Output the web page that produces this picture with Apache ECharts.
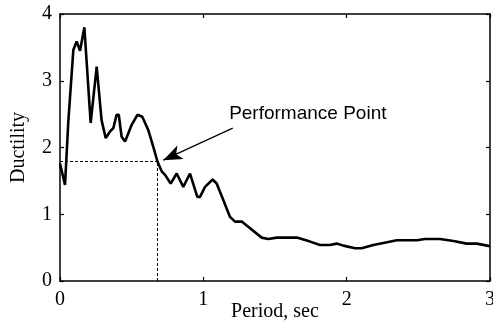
<!DOCTYPE html>
<html>
<head>
<meta charset="utf-8">
<script src="https://cdn.jsdelivr.net/npm/echarts@6/dist/echarts.min.js"></script>
<style>html,body{margin:0;padding:0;background:#fff}#c{width:493px;height:323px}</style>
</head>
<body>
<div id="c"></div>
<script>
const periods = [0, 0.01, 0.035, 0.058, 0.093, 0.116, 0.14, 0.17, 0.214, 0.256, 0.29, 0.319, 0.349, 0.372, 0.395, 0.41, 0.43, 0.454, 0.5, 0.54, 0.574, 0.616, 0.655, 0.68, 0.71, 0.733, 0.772, 0.814, 0.86, 0.907, 0.958, 0.977, 1.012, 1.065, 1.093, 1.14, 1.186, 1.221, 1.268, 1.326, 1.407, 1.454, 1.512, 1.652, 1.745, 1.814, 1.884, 1.93, 1.977, 2.058, 2.105, 2.186, 2.256, 2.35, 2.49, 2.547, 2.652, 2.745, 2.838, 2.908, 2.98, 3.0];
const ductility = [1.76, 1.74, 1.44, 2.39, 3.46, 3.59, 3.45, 3.80, 2.37, 3.21, 2.41, 2.14, 2.24, 2.29, 2.49, 2.49, 2.16, 2.09, 2.34, 2.49, 2.46, 2.26, 1.98, 1.79, 1.64, 1.59, 1.46, 1.61, 1.41, 1.61, 1.26, 1.26, 1.41, 1.52, 1.46, 1.21, 0.96, 0.89, 0.89, 0.79, 0.65, 0.63, 0.65, 0.65, 0.59, 0.54, 0.54, 0.56, 0.53, 0.49, 0.49, 0.54, 0.57, 0.61, 0.61, 0.63, 0.63, 0.60, 0.56, 0.56, 0.53, 0.52];
const xTicks = [0, 1, 2, 3];
const yTicks = [0, 1, 2, 3, 4];
const perfPoint = [0.675, 1.79];
const arrowStart = [1.205, 2.29];
const arrowEnd = [0.72, 1.81];
const annotationText = 'Performance Point';
const annotationPos = [1.18, 2.5];
const xName = 'Period, sec';
const yName = 'Ductility';

const chart = echarts.init(document.getElementById('c'), null, {renderer: 'canvas'});
const serif = '"Liberation Serif", "Times New Roman", serif';
const sans = '"Liberation Sans", Arial, sans-serif';
const lineBlack = {show: true, onZero: false, lineStyle: {color: '#000', width: 1.5}};
const tickStyle = {inside: true, length: 4, lineStyle: {color: '#000', width: 1.2}};
const axisCommonX = {
  type: 'value', min: xTicks[0], max: xTicks[xTicks.length - 1], interval: 1,
  splitLine: {show: false}, axisTick: tickStyle, axisLine: lineBlack
};
const axisCommonY = {
  type: 'value', min: yTicks[0], max: yTicks[yTicks.length - 1], interval: 1,
  splitLine: {show: false}, axisTick: tickStyle, axisLine: lineBlack
};
chart.setOption({
  animation: false,
  backgroundColor: '#fff',
  grid: {left: 60, right: 3, top: 14, bottom: 42, containLabel: false, outerBoundsMode: 'none'},
  xAxis: [
    Object.assign({}, axisCommonX, {
      position: 'bottom',
      name: xName, nameLocation: 'middle', nameGap: 21, nameMoveOverlap: false,
      nameTextStyle: {fontFamily: serif, fontSize: 20, color: '#000'},
      axisLabel: {margin: 9, fontFamily: serif, fontSize: 20, color: '#000', formatter: v => xTicks.indexOf(v) >= 0 ? String(v) : ''}
    }),
    Object.assign({}, axisCommonX, {
      position: 'top', axisLabel: {show: false}
    })
  ],
  yAxis: [
    Object.assign({}, axisCommonY, {
      position: 'left',
      name: yName, nameLocation: 'middle', nameGap: 31, nameRotate: 90, nameMoveOverlap: false,
      nameTextStyle: {fontFamily: serif, fontSize: 20, color: '#000'},
      axisLabel: {margin: 8, fontFamily: serif, fontSize: 20, color: '#000', formatter: v => yTicks.indexOf(v) >= 0 ? String(v) : ''}
    }),
    Object.assign({}, axisCommonY, {
      position: 'right', axisLabel: {show: false}
    })
  ],
  series: [{
    type: 'line',
    xAxisIndex: 0, yAxisIndex: 0,
    data: periods.map((p, i) => [p, ductility[i]]),
    showSymbol: false,
    symbol: 'none',
    lineStyle: {color: '#000', width: 2.6},
    silent: true,
    z: 3,
    markLine: {
      silent: true,
      symbol: ['none', 'none'],
      label: {show: false},
      lineStyle: {color: '#000', width: 1, type: [3, 2]},
      data: [
        [{coord: [0, perfPoint[1]]}, {coord: [perfPoint[0], perfPoint[1]]}],
        [{coord: [perfPoint[0], 0]}, {coord: [perfPoint[0], perfPoint[1]]}]
      ]
    }
  }, {
    type: 'line',
    xAxisIndex: 0, yAxisIndex: 0,
    data: [],
    silent: true,
    markLine: {
      silent: true,
      symbol: ['none', 'arrow'],
      symbolSize: [11, 19],
      label: {show: false},
      lineStyle: {color: '#000', width: 1.3, type: 'solid'},
      itemStyle: {color: '#000'},
      data: [[{coord: arrowStart}, {coord: arrowEnd}]]
    },
    markPoint: {
      silent: true,
      symbol: 'circle', symbolSize: 0,
      label: {show: true, position: 'right', distance: 0, formatter: annotationText, fontFamily: sans, fontSize: 19, color: '#000'},
      data: [{coord: annotationPos}]
    }
  }]
});
</script>
</body>
</html>
